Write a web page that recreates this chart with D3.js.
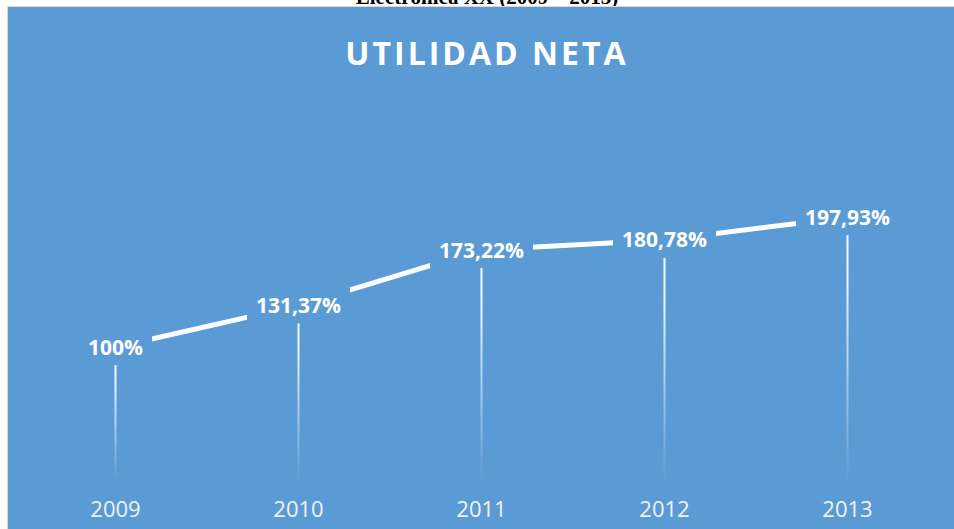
<!DOCTYPE html>
<html>
<head>
<meta charset="utf-8">
<script src="https://cdn.jsdelivr.net/npm/d3@7"></script>
<style>
  body { margin: 0; background: #fff; }
  svg { display: block; }
</style>
</head>
<body>
<div id="chart"></div>
<script>
// data
const years = ["2009", "2010", "2011", "2012", "2013"];
const values = [100, 131.37, 173.22, 180.78, 197.93];
const labels = ["100%", "131,37%", "173,22%", "180,78%", "197,93%"];

const width = 954, height = 529;
const blue = "#5b9bd5";

let svg = d3.select("#chart").append("svg")
    .attr("width", width)
    .attr("height", height);

// caption of the document, mostly hidden behind the chart
svg.append("text")
    .attr("x", 487)
    .attr("y", 4)
    .attr("text-anchor", "middle")
    .attr("font-family", "Liberation Serif")
    .attr("font-weight", "bold")
    .attr("font-size", 21)
    .attr("fill", "#000")
    .text("Electrónica XX (2009 – 2013)");

// chart area
svg.append("rect")
    .attr("x", 7.5).attr("y", 6.5)
    .attr("width", width).attr("height", height)
    .attr("fill", blue)
    .attr("stroke", "#d9d9d9")
    .attr("stroke-width", 1);

svg.append("text")
    .attr("x", 487)
    .attr("y", 65)
    .attr("text-anchor", "middle")
    .attr("font-family", "Open Sans")
    .attr("font-weight", "bold")
    .attr("font-size", 32)
    .attr("letter-spacing", 3)
    .attr("fill", "#fff")
    .text("UTILIDAD NETA");

// scales
let x = d3.scaleBand().domain(years).range([24, 939]);
let y = d3.scaleLinear().domain([0, 250]).range([480, 148]);
let cx = d => x(d) + x.bandwidth() / 2;

// gradient for drop lines
let grad = svg.append("defs").append("linearGradient")
    .attr("id", "dropFade")
    .attr("x1", 0).attr("y1", 0).attr("x2", 0).attr("y2", 1);
grad.append("stop").attr("offset", "0%").attr("stop-color", "#fff").attr("stop-opacity", 1);
grad.append("stop").attr("offset", "25%").attr("stop-color", "#fff").attr("stop-opacity", 0.9);
grad.append("stop").attr("offset", "100%").attr("stop-color", "#fff").attr("stop-opacity", 0);

let pts = years.map((yr, i) => ({ year: yr, value: values[i], label: labels[i] }));

// drop lines
svg.append("g").selectAll("rect")
    .data(pts)
    .join("rect")
    .attr("x", d => cx(d.year) - 1)
    .attr("y", d => y(d.value))
    .attr("width", 2)
    .attr("height", d => y(0) - y(d.value))
    .attr("fill", "url(#dropFade)");

// the line
let line = d3.line()
    .x(d => cx(d.year))
    .y(d => y(d.value));

svg.append("path")
    .datum(pts)
    .attr("d", line)
    .attr("fill", "none")
    .attr("stroke", "#fff")
    .attr("stroke-width", 5);

// data labels, centred on the points with a blue box behind
let lab = svg.append("g").selectAll("g")
    .data(pts)
    .join("g")
    .attr("transform", d => `translate(${cx(d.year)},${y(d.value)})`);

let labText = lab.append("text")
    .attr("text-anchor", "middle")
    .attr("dy", "0.36em")
    .attr("font-family", "Open Sans")
    .attr("font-weight", "bold")
    .attr("font-size", 21)
    .attr("fill", "#fff")
    .text(d => d.label);

labText.each(function() {
    let bb = this.getBBox();
    d3.select(this.parentNode).insert("rect", "text")
        .attr("x", bb.x - 9)
        .attr("y", -18)
        .attr("width", bb.width + 18)
        .attr("height", 36)
        .attr("fill", blue);
});

// category axis labels
svg.append("g").selectAll("text")
    .data(years)
    .join("text")
    .attr("x", d => cx(d))
    .attr("y", 517)
    .attr("text-anchor", "middle")
    .attr("font-family", "Open Sans")
    .attr("font-size", 22)
    .attr("fill", "#f2f2f2")
    .text(d => d);
</script>
</body>
</html>
